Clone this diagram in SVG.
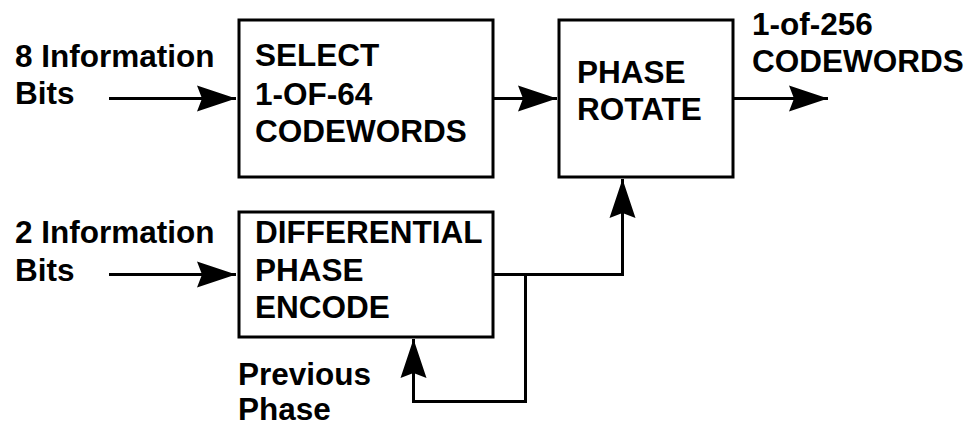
<svg xmlns="http://www.w3.org/2000/svg" width="967" height="426" viewBox="0 0 967 426">
<defs>
<style>
.box{fill:#fff;stroke:#000;stroke-width:3}
.t{font-family:"Liberation Sans",Arial,sans-serif;font-weight:bold;font-size:31.5px;fill:#000}
.c{fill:none;stroke:#000;stroke-width:3;stroke-linejoin:miter}
</style>
<marker id="ah" markerUnits="userSpaceOnUse" markerWidth="42" markerHeight="30" viewBox="-40 -14 42 28" refX="0" refY="0" orient="auto">
<path d="M0,0 L-39,-13 L-34,0 L-39,13 Z" fill="#000"/>
</marker>
</defs>
<rect width="967" height="426" fill="#fff"/>
<g id="connectors">
<path class="c" d="M109,98.5 H236" marker-end="url(#ah)"/>
<path class="c" d="M493,98.5 H557" marker-end="url(#ah)"/>
<path class="c" d="M733,98.5 H828" marker-end="url(#ah)"/>
<path class="c" d="M109,274.5 H236" marker-end="url(#ah)"/>
<path class="c" d="M493,274.5 H622.5 V179" marker-end="url(#ah)"/>
<path class="c" d="M525.5,274.5 V401.5 H413.5 V339" marker-end="url(#ah)"/>
</g>
<g id="select">
<rect class="box" x="239" y="20" width="254" height="157"/>
<text class="t" x="255" y="66">SELECT</text>
<text class="t" x="255" y="105">1-OF-64</text>
<text class="t" x="255" y="142">CODEWORDS</text>
</g>
<g id="rotate">
<rect class="box" x="559" y="20" width="174" height="157"/>
<text class="t" x="577" y="83">PHASE</text>
<text class="t" x="577" y="120">ROTATE</text>
</g>
<g id="encode">
<rect class="box" x="239" y="212" width="254" height="125"/>
<text class="t" x="255" y="243">DIFFERENTIAL</text>
<text class="t" x="255" y="281">PHASE</text>
<text class="t" x="255" y="318">ENCODE</text>
</g>
<g id="labels">
<text class="t" x="15" y="67">8 Information</text>
<text class="t" x="15" y="104">Bits</text>
<text class="t" x="752" y="35">1-of-256</text>
<text class="t" x="752" y="72">CODEWORDS</text>
<text class="t" x="15" y="243">2 Information</text>
<text class="t" x="15" y="281">Bits</text>
<text class="t" x="238" y="385">Previous</text>
<text class="t" x="238" y="420">Phase</text>
</g>
</svg>
